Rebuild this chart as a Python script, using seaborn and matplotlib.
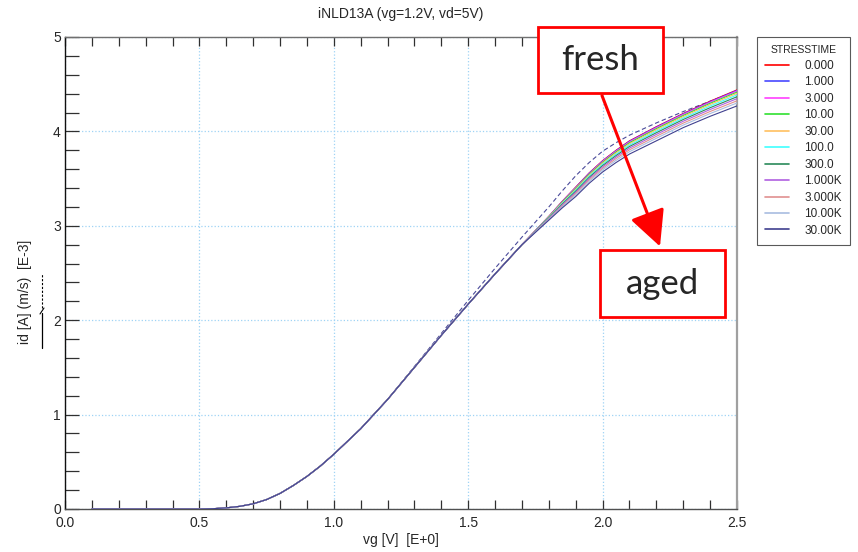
import matplotlib
matplotlib.use("Agg")
import matplotlib.pyplot as plt
import pandas as pd
import seaborn as sns
from matplotlib.lines import Line2D
from matplotlib.patches import Rectangle, FancyArrowPatch

# gate voltage points shared by every curve (curves coincide below 1.7 V)
vg_common = [0.1, 0.5, 0.55, 0.6, 0.65, 0.7, 0.75, 0.8, 0.85, 0.9, 0.95, 1.0, 1.1, 1.2, 1.3,
             1.4, 1.5, 1.6, 1.7]
id_common = [0.0, 0.0, 0.003, 0.012, 0.028, 0.055, 0.10, 0.165, 0.25, 0.345, 0.455, 0.58, 0.85,
             1.16, 1.50, 1.84, 2.17, 2.49, 2.80]

# high vg part, where the stress curves separate
vg_high = [1.8, 1.85, 1.9, 1.95, 2.0, 2.05, 2.1, 2.2, 2.3, 2.4, 2.5]
id_0 = [3.100, 3.260, 3.410, 3.560, 3.690, 3.800, 3.900, 4.050, 4.190, 4.320, 4.440]
id_1 = [3.099, 3.258, 3.407, 3.557, 3.686, 3.796, 3.896, 4.046, 4.186, 4.315, 4.435]
id_3 = [3.097, 3.255, 3.403, 3.552, 3.682, 3.791, 3.890, 4.040, 4.180, 4.309, 4.428]
id_10 = [3.094, 3.250, 3.396, 3.545, 3.673, 3.782, 3.880, 4.029, 4.169, 4.298, 4.416]
id_30 = [3.091, 3.245, 3.388, 3.536, 3.664, 3.771, 3.869, 4.017, 4.157, 4.285, 4.403]
id_100 = [3.087, 3.238, 3.378, 3.525, 3.652, 3.758, 3.855, 4.002, 4.142, 4.269, 4.386]
id_300 = [3.083, 3.230, 3.367, 3.513, 3.638, 3.744, 3.840, 3.986, 4.126, 4.251, 4.367]
id_1k = [3.078, 3.222, 3.355, 3.500, 3.624, 3.729, 3.823, 3.968, 4.108, 4.232, 4.347]
id_3k = [3.073, 3.212, 3.342, 3.485, 3.608, 3.712, 3.805, 3.948, 4.088, 4.211, 4.324]
id_10k = [3.067, 3.203, 3.328, 3.470, 3.592, 3.693, 3.785, 3.927, 4.067, 4.189, 4.301]
id_30k = [3.060, 3.190, 3.310, 3.450, 3.570, 3.670, 3.760, 3.900, 4.040, 4.160, 4.270]

stress_labels = ["0.000", "1.000", "3.000", "10.00", "30.00", "100.0", "300.0",
                 "1.000K", "3.000K", "10.00K", "30.00K"]
stress_colors = ["#ff0000", "#4848ff", "#ff40ff", "#30e030", "#ffc060", "#40ffff",
                 "#2a8a5a", "#b060e0", "#e09090", "#a8bce0", "#40408f"]
high_curves = [id_0, id_1, id_3, id_10, id_30, id_100, id_300, id_1k, id_3k, id_10k, id_30k]

# dashed reference curve (not in legend)
id_ref = [0.0, 0.0, 0.003, 0.012, 0.028, 0.055, 0.10, 0.165, 0.25, 0.345, 0.455, 0.58, 0.85,
          1.16, 1.51, 1.86, 2.21, 2.55, 2.88,
          3.20, 3.37, 3.53, 3.67, 3.79, 3.88, 3.96, 4.09, 4.21, 4.32, 4.43]

rows = []
for lab, hi in zip(stress_labels, high_curves):
    for v, i in zip(vg_common + vg_high, id_common + hi):
        rows.append((lab, v, i))
df = pd.DataFrame(rows, columns=["STRESSTIME", "vg", "id"])
df_ref = pd.DataFrame({"vg": vg_common + vg_high, "id": id_ref})

sns.set_style("white")
plt.rcParams["font.family"] = ["Liberation Sans", "DejaVu Sans"]

W, H = 858, 552
fig = plt.figure(figsize=(W / 100, H / 100), dpi=100)
ax = fig.add_axes([65 / W, 1 - 509 / H, (737 - 65) / W, (509 - 37) / H])

palette = dict(zip(stress_labels, stress_colors))
sns.lineplot(data=df_ref, x="vg", y="id", color="#4a4a9a", lw=0.8, linestyle=(0, (4, 2.5)),
             sort=False, estimator=None, ax=ax, zorder=3)
sns.lineplot(data=df, x="vg", y="id", hue="STRESSTIME", hue_order=stress_labels,
             palette=palette, lw=0.8, sort=False, estimator=None, legend=False,
             ax=ax, zorder=4)

ax.set_xlim(0, 2.5)
ax.set_ylim(0, 5)
ax.set_xticks([0, 0.5, 1.0, 1.5, 2.0, 2.5])
ax.set_xticklabels(["0.0", "0.5", "1.0", "1.5", "2.0", "2.5"])
ax.set_yticks([0, 1, 2, 3, 4, 5])
ax.set_xticks([i / 10 for i in range(26)], minor=True)
ax.set_yticks([i / 5 for i in range(26)], minor=True)
ax.grid(True, which="major", color="#9fd3f5", linestyle=":", lw=0.9)
ax.tick_params(axis="x", which="both", direction="in", top=True, bottom=True,
               length=6.5, width=0.9, color="#303030", labelsize=10, pad=5)
ax.tick_params(axis="y", which="both", direction="in", left=True, right=False,
               length=10, width=0.9, color="#303030", labelsize=10, pad=3)
ax.set_xlabel("")
ax.set_ylabel("")
for side, col, lw in [("left", "#101010", 1.0), ("bottom", "#505050", 1.0),
                      ("top", "#707070", 1.0), ("right", "#a0a0a0", 1.6)]:
    ax.spines[side].set_color(col)
    ax.spines[side].set_linewidth(lw)

fig.text(401 / W, 1 - 14 / H, "iNLD13A (vg=1.2V, vd=5V)", ha="center", va="center", fontsize=10)
fig.text(401 / W, 1 - 540 / H, "vg [V]  [E+0]", ha="center", va="center", fontsize=10)
fig.text(25 / W, 1 - 292 / H, "id [A] (m/s)  [E-3]", ha="center", va="center",
         rotation=90, fontsize=10)
# line samples next to the y label
fig.add_artist(Line2D([42 / W, 42 / W], [1 - 348 / H, 1 - 313 / H], color="black", lw=0.9))
fig.add_artist(Line2D([40 / W, 44 / W], [1 - 314 / H, 1 - 308 / H], color="black", lw=0.8))
fig.add_artist(Line2D([42 / W, 42 / W], [1 - 308 / H, 1 - 273 / H], color="black", lw=0.8,
                      linestyle=(0, (2, 1.5))))

handles = [Line2D([], [], color=palette[lab], lw=1.2) for lab in stress_labels]
leg = ax.legend(handles, stress_labels, title="STRESSTIME", loc="upper left",
                bbox_to_anchor=(757 / W, 1 - 37 / H), bbox_transform=fig.transFigure,
                fontsize=8.5, title_fontsize=7.5, frameon=True, fancybox=False,
                edgecolor="#303030", handlelength=2.0, labelspacing=0.38,
                borderpad=0.7, handletextpad=1.3, borderaxespad=0)
leg.get_frame().set_linewidth(0.8)

# annotation boxes and arrow
for x0, y0, x1, y1, txt in [(538, 27, 663, 93, "fresh"), (600, 250, 725, 317, "aged")]:
    fig.add_artist(Rectangle((x0 / W, 1 - y1 / H), (x1 - x0) / W, (y1 - y0) / H,
                             transform=fig.transFigure, facecolor="white",
                             edgecolor="#ff0000", lw=2, zorder=10))
    fig.text((x0 + x1) / 2 / W, 1 - (y0 + y1) / 2 / H, txt, ha="center", va="center",
             fontsize=25, family=["Lato", "DejaVu Sans"], zorder=11)
fig.add_artist(FancyArrowPatch((601 / W, 1 - 93 / H), (661 / W, 1 - 249 / H),
                               transform=fig.transFigure, arrowstyle="-|>,head_length=11,head_width=5.5",
                               mutation_scale=2, color="#ff0000", lw=2.2, zorder=9))

fig.savefig("out.png", dpi=100)
